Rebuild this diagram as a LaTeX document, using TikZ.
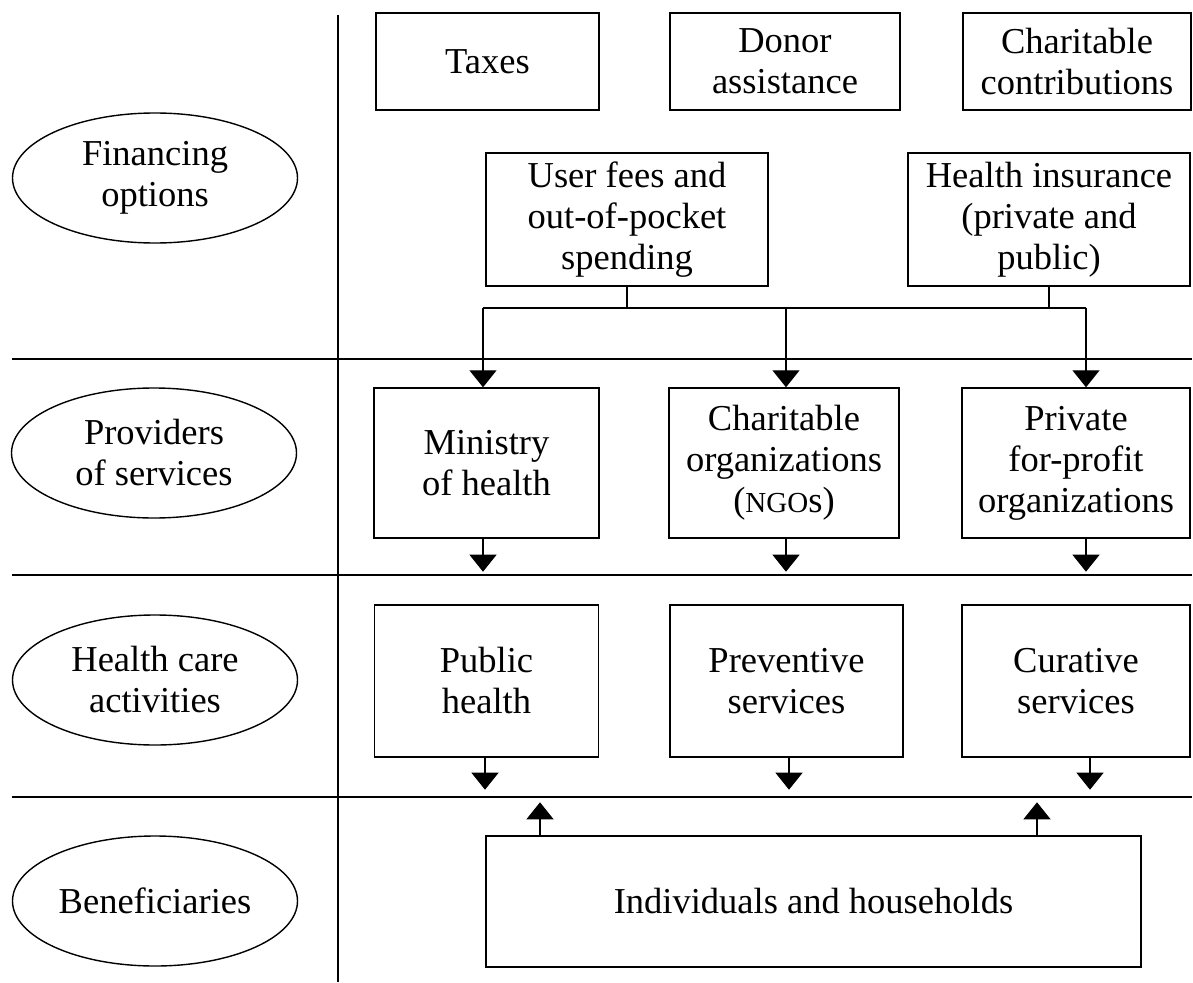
\documentclass[tikz,border=0pt]{standalone}
\usepackage{fontspec}
\setmainfont{Liberation Serif}
\usetikzlibrary{arrows.meta,shapes.geometric}
\begin{document}
\begin{tikzpicture}[x=1pt,y=-1pt,
 box/.style={draw,line width=1.4pt,align=center,inner sep=0pt,font=\fontsize{36.5}{41}\selectfont},
 lab/.style={draw,ellipse,line width=1.4pt,align=center,inner sep=0pt,minimum width=285pt,minimum height=130pt,font=\fontsize{36.5}{41}\selectfont},
 sep/.style={line width=2.4pt},
 conn/.style={line width=1.3pt},
 arr/.style={conn,-{Triangle[width=27pt,length=17pt]}}
]
\useasboundingbox (0,0) rectangle (1193,982);
% separators
\coordinate (vT) at (338,15);
\coordinate (vB) at (338,982);
\coordinate (L1) at (12,359); \coordinate (R1) at (1192,359);
\coordinate (L2) at (12,575); \coordinate (R2) at (1192,575);
\coordinate (L3) at (12,797); \coordinate (R3) at (1192,797);
\draw[sep] (vT) -- (vB);
\draw[sep] (L1) -- (R1);
\draw[sep] (L2) -- (R2);
\draw[sep] (L3) -- (R3);
% row labels
\node[lab] (fin) at (155,178) {Financing\\options};
\node[lab] (prov) at (154,453) {Providers\\of services};
\node[lab] (act) at (155,680) {Health care\\activities};
\node[lab] (ben) at (155,901) {Beneficiaries};
% financing
\node[box,minimum width=223pt,minimum height=97pt] (tax) at (487.5,61.5) {Taxes};
\node[box,minimum width=230pt,minimum height=97pt] (don) at (785,61.5) {Donor\\assistance};
\node[box,minimum width=228pt,minimum height=97pt] (cc) at (1077,61.5) {Charitable\\contributions};
\node[box,minimum width=282pt,minimum height=133pt] (uf) at (627,219.5) {User fees and\\out-of-pocket\\spending};
\node[box,minimum width=282pt,minimum height=133pt] (hi) at (1049,219.5) {Health insurance\\(private and\\public)};
% providers
\node[box,minimum width=225pt,minimum height=150pt] (moh) at (486.5,463) {Ministry\\of health};
\node[box,minimum width=230pt,minimum height=150pt] (cho) at (784,463) {Charitable\\organizations\\({\fontsize{29}{30}\selectfont NGO}s)};
\node[box,minimum width=228pt,minimum height=150pt] (pfp) at (1076,463) {Private\\for-profit\\organizations};
% activities
\node[box,minimum width=224pt,minimum height=152pt] (ph) at (486.5,681) {Public\\health};
\node[box,minimum width=233pt,minimum height=152pt] (ps) at (786.5,681) {Preventive\\services};
\node[box,minimum width=228pt,minimum height=152pt] (cs) at (1076,681) {Curative\\services};
% beneficiaries
\node[box,minimum width=655pt,minimum height=131pt] (ind) at (813.5,901.5) {Individuals and households};
% financing connectors
\coordinate (busL) at (483,308);
\coordinate (busM) at (786,308);
\coordinate (busR) at (1086,308);
\draw[conn] (busL) -- (busR);
\draw[conn] (uf.south) -- (uf.south |- busL);
\draw[conn] (hi.south) -- (hi.south |- busL);
\draw[arr] (busL) -- (busL |- moh.north);
\draw[arr] (busM) -- (busM |- cho.north);
\draw[arr] (busR) -- (busR |- pfp.north);
% provider to activities
\draw[arr] (moh.south -| busL) -- ++(0,33);
\draw[arr] (cho.south -| busM) -- ++(0,33);
\draw[arr] (pfp.south -| busR) -- ++(0,33);
% activities to beneficiaries
\coordinate (a1) at (485,0);
\coordinate (a2) at (789,0);
\coordinate (a3) at (1090,0);
\draw[arr] (ph.south -| a1) -- ++(0,32);
\draw[arr] (ps.south -| a2) -- ++(0,32);
\draw[arr] (cs.south -| a3) -- ++(0,32);
% beneficiaries up
\coordinate (u1) at (540,0);
\coordinate (u2) at (1037,0);
\draw[arr] (ind.north -| u1) -- ++(0,-33);
\draw[arr] (ind.north -| u2) -- ++(0,-33);
\end{tikzpicture}
\end{document}
